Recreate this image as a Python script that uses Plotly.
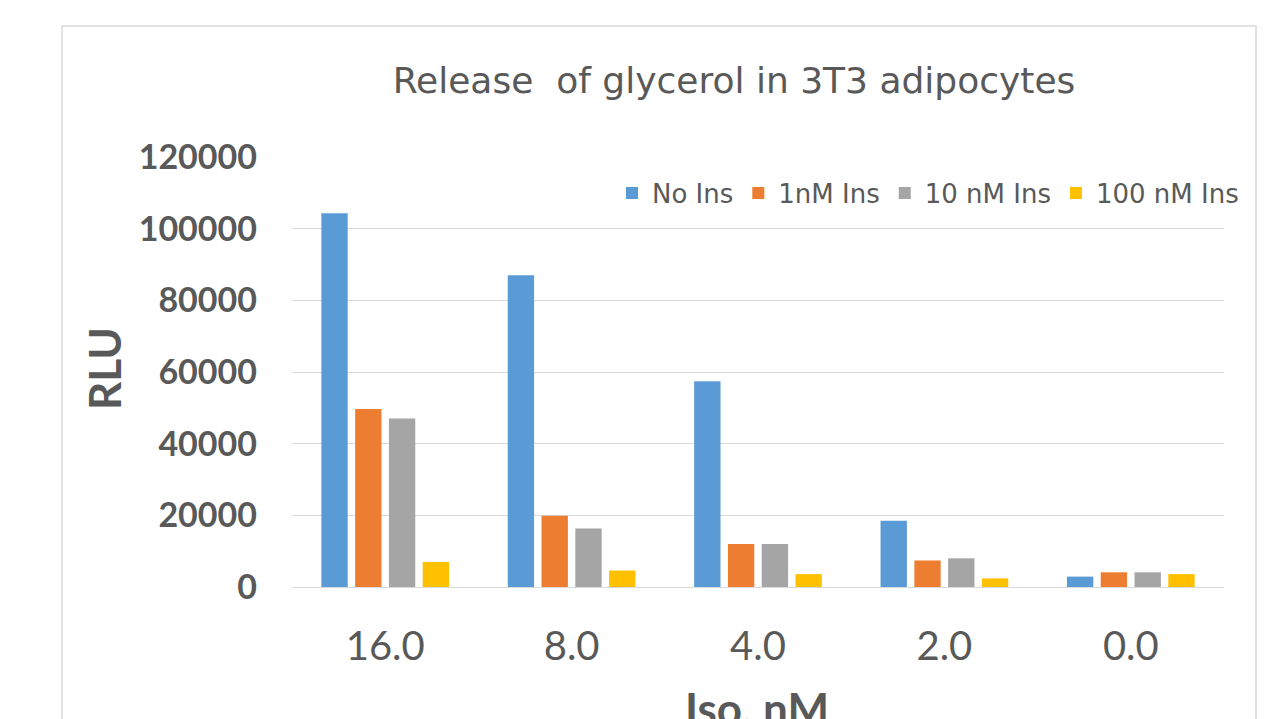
import plotly.graph_objects as go

categories = ["16.0", "8.0", "4.0", "2.0", "0.0"]
series_names = ["No Ins", "1nM Ins", "10 nM Ins", "100 nM Ins"]
no_ins = [104300, 87000, 57400, 18500, 2900]
ins_1nm = [49700, 19900, 12000, 7400, 4100]
ins_10nm = [47000, 16300, 12000, 8000, 4100]
ins_100nm = [7000, 4600, 3600, 2400, 3600]
colors = ["#5B9BD5", "#ED7D31", "#A5A5A5", "#FFC000"]
y_ticks = [0, 20000, 40000, 60000, 80000, 100000, 120000]

W, H = 1274, 719
L, R, T, B = 292, 1224, 157, 587

def px_x(p):
    return (p - L) / (R - L)

def px_y(p):
    return (B - p) / (B - T)

fig = go.Figure()
for name, vals, col in zip(series_names, [no_ins, ins_1nm, ins_10nm, ins_100nm], colors):
    fig.add_trace(go.Bar(x=categories, y=vals, name=name, marker=dict(color=col, line=dict(width=0))))

txt = "#595959"
fig.update_layout(
    width=W, height=H,
    margin=dict(l=L, r=W - R, t=T, b=H - B),
    paper_bgcolor="white", plot_bgcolor="white",
    barmode="group", bargap=0.275, bargroupgap=0.22,
    font=dict(family="Lato", color=txt),
    title=dict(text="Release  of glycerol in 3T3 adipocytes", xref="paper", x=px_x(734), xanchor="center",
               y=1 - 80 / H, yanchor="middle", font=dict(family="DejaVu Sans", size=36, color=txt)),
    legend=dict(orientation="h", x=px_x(1244), xanchor="right", y=px_y(193), yanchor="middle",
                font=dict(family="DejaVu Sans", size=26, color=txt), bgcolor="rgba(0,0,0,0)",
                itemwidth=30, traceorder="normal", itemsizing="constant", tracegroupgap=0),
    showlegend=True,
)
fig.update_xaxes(showgrid=False, showline=False, ticks="", ticklabelstandoff=32,
                 tickfont=dict(family="Lato", size=40, color=txt))
fig.update_yaxes(range=[0, 120000], tickvals=y_ticks, ticktext=[str(v) for v in y_ticks],
                 showgrid=True, gridcolor="#D9D9D9", gridwidth=1,
                 zeroline=True, zerolinecolor="#D9D9D9", zerolinewidth=1,
                 showline=False, ticks="", ticklabelstandoff=34,
                 tickfont=dict(family="Lato", size=34, color=txt, weight="bold"))

fig.add_annotation(text="<b>RLU</b>", xref="paper", yref="paper", x=px_x(104), y=px_y(369),
                   xanchor="center", yanchor="middle", textangle=-90, showarrow=False,
                   font=dict(family="Lato", size=44, color=txt))
fig.add_annotation(text="<b>Iso, nM</b>", xref="paper", yref="paper", x=px_x(757), y=px_y(680),
                   xanchor="center", yanchor="top", showarrow=False,
                   font=dict(family="Lato", size=44, color=txt))
fig.add_shape(type="rect", xref="paper", yref="paper", x0=px_x(62), x1=px_x(1256),
              y0=px_y(760), y1=px_y(26), line=dict(color="#D9D9D9", width=1.5), layer="below")

fig.write_html("out.html")
